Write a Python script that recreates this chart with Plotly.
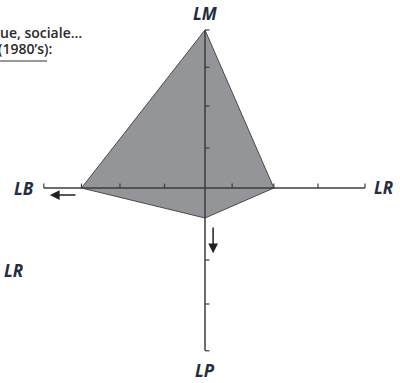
import plotly.graph_objects as go

# axis names, clockwise from top
axes = ["LM", "LR", "LP", "LB"]
# polygon reach along each half-axis (axis length ~4)
values = [3.95, 1.7, 0.75, 3.05]

# tick positions (drawing is hand-spaced)
x_ticks = [-3.98, -3.05, -2.1, -1.0, 0.67, 1.7, 2.79, 3.95]
y_ticks = [3.95, 3.02, 2.05, 1.0, -1.8, -2.9, -4.07]
x_end = (-3.98, 3.95)
y_end = (-4.07, 3.95)

LABEL = "#262b40"
AXIS = "#3c3c3c"

# polygon: top, right, bottom, left
px = [0, values[1], 0, -values[3], 0]
py = [values[0], 0, -values[2], 0, values[0]]

fig = go.Figure()
fig.add_trace(go.Scatter(
    x=px, y=py, mode="lines", fill="toself",
    fillcolor="#939598", line=dict(color="#4a4a4a", width=1),
    hoverinfo="skip", showlegend=False,
))

shapes = [
    dict(type="line", x0=x_end[0], x1=x_end[1], y0=0, y1=0,
         line=dict(color=AXIS, width=1.5)),
    dict(type="line", x0=0, x1=0, y0=y_end[0], y1=y_end[1],
         line=dict(color=AXIS, width=1.5)),
]
for t in x_ticks:
    shapes.append(dict(type="line", x0=t, x1=t, y0=0, y1=0.11,
                       line=dict(color=AXIS, width=1.2)))
for t in y_ticks:
    shapes.append(dict(type="line", x0=0, x1=0.11, y0=t, y1=t,
                       line=dict(color=AXIS, width=1.2)))
# underline under the cut-off caption
shapes.append(dict(type="line", xref="paper", yref="paper",
                   x0=0, x1=47 / 400, y0=1 - 61 / 383, y1=1 - 61 / 383,
                   line=dict(color="#333333", width=1)))

lab_font = dict(family="Open Sans, Lato, sans-serif", size=17, color=LABEL)
labels = [
    ("<b><i>LM</i></b>", 0, 4.37),
    ("<b><i>LR</i></b>", 4.4, 0.02),
    ("<b><i>LB</i></b>", -4.47, 0.0),
    ("<b><i>LP</i></b>", 0, -4.55),
    ("<b><i>LR</i></b>", -4.74, -2.05),
]
annotations = [dict(text=t, x=x, y=y, showarrow=False, font=lab_font)
               for t, x, y in labels]

# direction arrows
annotations.append(dict(x=-3.83, y=-0.175, ax=-3.16, ay=-0.175,
                        xref="x", yref="y", axref="x", ayref="y",
                        text="", showarrow=True, arrowhead=2, arrowsize=1.3,
                        arrowwidth=1.5, arrowcolor="#222222"))
annotations.append(dict(x=0.2, y=-1.63, ax=0.2, ay=-0.95,
                        xref="x", yref="y", axref="x", ayref="y",
                        text="", showarrow=True, arrowhead=2, arrowsize=1.3,
                        arrowwidth=1.5, arrowcolor="#222222"))

# caption fragments, cut off at the left edge
cap_font = dict(family="Open Sans, sans-serif", size=14, color="#2a2a2a",
                weight=600)
annotations.append(dict(text="ue, sociale…", xref="paper", yref="paper",
                        x=84 / 400, y=1 - 33 / 383, xanchor="right",
                        yanchor="middle", showarrow=False, font=cap_font))
annotations.append(dict(text="(1980’s):", xref="paper", yref="paper",
                        x=54 / 400, y=1 - 49 / 383, xanchor="right",
                        yanchor="middle", showarrow=False, font=cap_font))

fig.update_layout(
    width=400, height=383,
    margin=dict(l=0, r=0, t=0, b=0),
    paper_bgcolor="white", plot_bgcolor="white",
    xaxis=dict(range=[-5.062, 4.815], visible=False),
    yaxis=dict(range=[-4.875, 4.7], visible=False),
    shapes=shapes, annotations=annotations,
    showlegend=False,
)

# the page body has a default 8px margin; drop it so the figure sits at 0,0
fig.write_html("out.html", config={"displayModeBar": False},
               post_script="document.body.style.margin='0';")
